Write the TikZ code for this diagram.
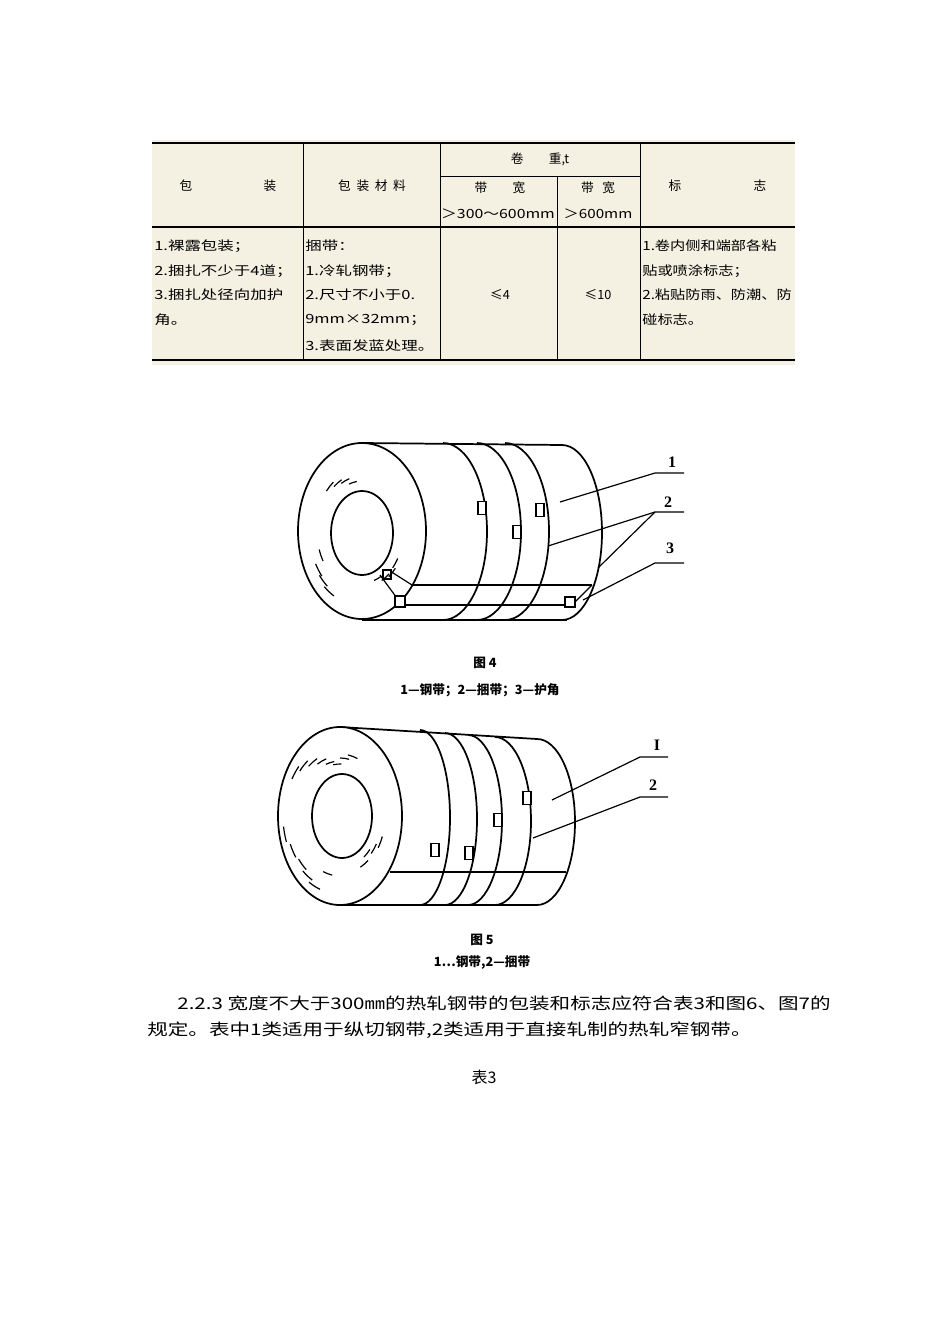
\documentclass[tikz,border=0pt]{standalone}
\usepackage{fontspec}
\setmainfont{Liberation Serif}
\newfontfamily\cjk{Noto Sans CJK SC}
\begin{document}
\begin{tikzpicture}[x=0.75pt,y=-0.75pt,
  tb/.style={font=\cjk\fontsize{9.5}{11}\selectfont,inner sep=0pt},
  cell/.style={tb,anchor=west,xscale=1.3,transform shape},
  cellr/.style={tb,anchor=west,xscale=1.2,transform shape},
  coil/.style={line width=1.3pt},
  thin/.style={line width=0.9pt},
  tab/.style={draw,line width=1pt,fill=white,minimum width=6pt,minimum height=10pt,inner sep=0pt},
  lab/.style={font=\bfseries\fontsize{12}{12}\selectfont,inner sep=1pt},
  capt/.style={font=\cjk\bfseries\fontsize{9.5}{11}\selectfont,inner sep=0pt},
  body/.style={font=\cjk\fontsize{12}{14}\selectfont,inner sep=0pt,anchor=west,xscale=1.285,transform shape}]
\useasboundingbox (0,0) rectangle (950,1344);
% ---------- table ----------
\fill[fill={rgb,255:red,244;green,240;blue,226}] (152,140) rectangle (795,365);
\draw[line width=1.2pt] (152,143) -- (795,143);
\draw[line width=1.2pt] (152,360) -- (795,360);
\draw[line width=0.8pt] (152,227) -- (795,227);
\draw[line width=0.6pt] (440,176) -- (640,176);
\foreach \x in {303,440,640} \draw[line width=0.6pt] (\x,143) -- (\x,360);
\draw[line width=0.6pt] (557,176) -- (557,360);
\node[tb] (h1a) at (186,186) {包};
\node[tb] (h1b) at (270,186) {装};
\node[tb] (h2) at (372,186) {包\ \ 装\ \ 材\ \ 料};
\node[tb] (h3) at (540,159) {卷\qquad 重,t};
\node[tb] (h4) at (500,188) {带\qquad 宽};
\node[tb,xscale=1.25,transform shape] (h5) at (498,214) {＞300～600mm};
\node[tb] (h6) at (598,188) {带\ \ \ 宽};
\node[tb,xscale=1.2,transform shape] (h7) at (598,214) {＞600mm};
\node[tb] (h8a) at (675,186) {标};
\node[tb] (h8b) at (760,186) {志};
\node[cell] (a1) at (154,246) {1.裸露包装；};
\node[cell] (a2) at (154,271) {2.捆扎不少于4道；};
\node[cell] (a3) at (154,295) {3.捆扎处径向加护};
\node[cell] (a4) at (154,320) {角。};
\node[cell] (b1) at (305,246) {捆带：};
\node[cell] (b2) at (305,271) {1.冷轧钢带；};
\node[cell] (b3) at (305,295) {2.尺寸不小于0.};
\node[cell] (b4) at (305,320) {9mm×32mm；};
\node[cell] (b5) at (305,346) {3.表面发蓝处理。};
\node[tb] (c1) at (500,295) {≤4};
\node[tb] (c2) at (598,295) {≤10};
\node[cellr] (d1) at (642,246) {1.卷内侧和端部各粘};
\node[cellr] (d2) at (642,271) {贴或喷涂标志；};
\node[cellr] (d3) at (642,295) {2.粘贴防雨、防潮、防};
\node[cellr] (d4) at (642,320) {碰标志。};
% ---------- figure 4 ----------
\begin{scope}
\draw[coil] (362,443) -- (562,445);
\draw[coil] (362,620) -- (567,620);
\draw[coil] (562,445) arc[start angle=-90,end angle=90,x radius=40,y radius=87.5];
\foreach \c in {443,477,505}
  \draw[coil] (\c,443) arc[start angle=-90,end angle=90,x radius=44,y radius=88.5];
\draw[coil,fill=white] (362,531) ellipse[x radius=64,y radius=88];
\draw[coil] (362,533) ellipse[x radius=31,y radius=42];
% protective strip
\draw[thin] (412,585) -- (592,585);
\draw[thin] (398,605) -- (572,605);
\draw[thin] (380,575) -- (402,605);
\draw[thin] (390,571) -- (412,585);
\draw[thin] (572,605) -- (592,585);
\draw[thin,fill=white] (395,596) rectangle (405,607);
\draw[thin,fill=white] (565,597) rectangle (575,607);
\draw[thin,fill=white] (383,570) rectangle (391,579);
% hatching
\foreach \a/\r in {120/75,130/72,140/70,150/60,-120/55,-130/58,-140/62,-110/50,60/52,50/56,40/58,30/55}
  \draw[thin] (362,531) ++(\a:{\r*0.75} and \r) arc[start angle=\a,end angle=\a+12,x radius=\r*0.75,y radius=\r];
\node[tab] (t1) at (482,508) {};
\node[tab] (t2) at (517,532) {};
\node[tab] (t3) at (540,510) {};
\coordinate (p1) at (560,502);
\coordinate (p2a) at (548,546);
\coordinate (p2b) at (598,568);
\coordinate (p3) at (583,600);
\node[lab] (l1) at (672,462) {1};
\node[lab] (l2) at (668,502) {2};
\node[lab] (l3) at (670,548) {3};
\draw[thin] (p1) -- (655,473) -- (684,473);
\draw[thin] (p2a) -- (655,512) -- (684,512);
\draw[thin] (p2b) -- (655,512);
\draw[thin] (p3) -- (655,563) -- (684,563);
\node[capt] (f4) at (485,663) {图 4};
\node[capt] (f4c) at (480,690) {1—钢带；2—捆带；3—护角};
\end{scope}
% ---------- figure 5 ----------
\begin{scope}
\draw[coil] (340,727) -- (537,739);
\draw[coil] (340,905) -- (537,905);
\draw[coil] (537,739) arc[start angle=-90,end angle=90,x radius=38,y radius=83];
\draw[coil] (420,730) arc[start angle=-90,end angle=90,x radius=30,y radius=87.5];
\draw[coil] (445,733) arc[start angle=-90,end angle=90,x radius=32,y radius=86];
\draw[coil] (468,735) arc[start angle=-90,end angle=90,x radius=34,y radius=85];
\draw[coil] (495,737) arc[start angle=-90,end angle=90,x radius=36,y radius=84];
\draw[coil,fill=white] (340,816) ellipse[x radius=62,y radius=89];
\draw[coil] (342,816) ellipse[x radius=30,y radius=42];
\draw[thin] (390,872) -- (566,872);
\foreach \a/\r in {110/78,120/74,130/70,145/72,160/76,100/60,-110/55,-120/60,-130/65,-140/70,-150/74,-100/52,-90/58,-80/62,20/60,30/56,40/52,50/58}
  \draw[thin] (340,816) ++(\a:{\r*0.75} and \r) arc[start angle=\a,end angle=\a+12,x radius=\r*0.75,y radius=\r];
\node[tab] (s1) at (435,850) {};
\node[tab] (s2) at (469,853) {};
\node[tab] (s3) at (498,820) {};
\node[tab] (s4) at (527,798) {};
\coordinate (q1) at (552,800);
\coordinate (q2) at (533,838);
\node[lab] (m1) at (657,745) {I};
\node[lab] (m2) at (653,785) {2};
\draw[thin] (q1) -- (640,757) -- (668,757);
\draw[thin] (q2) -- (640,797) -- (668,797);
\node[capt] (f5) at (482,940) {图 5};
\node[capt] (f5c) at (482,963) {1…钢带,2—捆带};
\end{scope}
% ---------- text ----------
\node[body] (t1a) at (177,1003) {2.2.3 宽度不大于300㎜的热轧钢带的包装和标志应符合表3和图6、图7的};
\node[body] (t1b) at (147,1030) {规定。表中1类适用于纵切钢带,2类适用于直接轧制的热轧窄钢带。};
\node[font=\cjk\fontsize{12}{14}\selectfont] (tab3) at (484,1077) {表3};
\end{tikzpicture}
\end{document}
